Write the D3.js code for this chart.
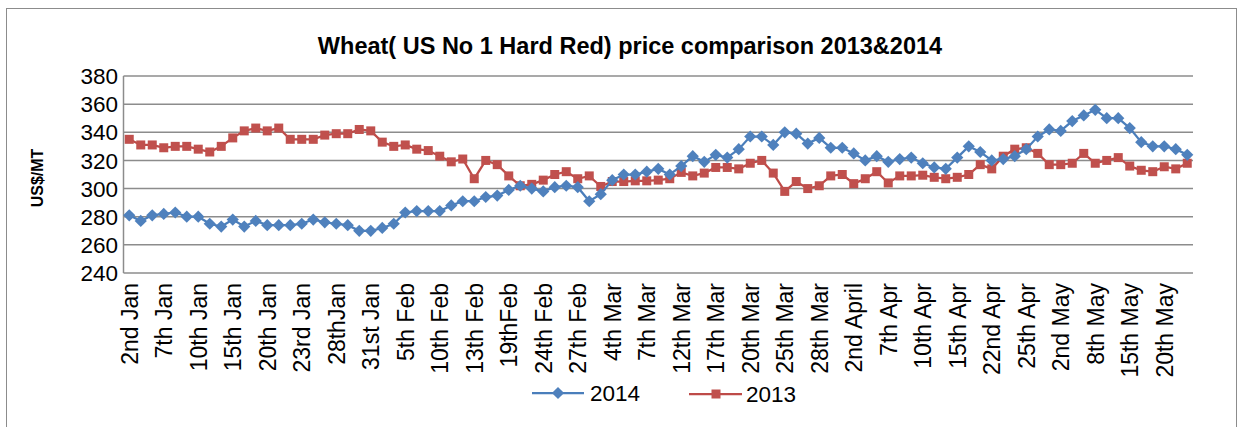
<!DOCTYPE html>
<html>
<head>
<meta charset="utf-8">
<script src="https://cdn.jsdelivr.net/npm/d3@7"></script>
<style>
  body { margin: 0; background: #fff; }
  svg { font-family: "Liberation Sans", Arial, sans-serif; }
</style>
</head>
<body>
<svg id="chart"></svg>
<script>
// tick labels, one for every third trading day
const tickLabels = ["2nd Jan", "7th Jan", "10th Jan", "15th Jan", "20th Jan", "23rd Jan", "28thJan",
  "31st Jan", "5th Feb", "10th Feb", "13th Feb", "19thFeb", "24th Feb", "27th Feb", "4th Mar",
  "7th Mar", "12th Mar", "17th Mar", "20th Mar", "25th Mar", "28th Mar", "2nd April", "7th Apr",
  "10th Apr", "15th Apr", "22nd Apr", "25th Apr", "2nd May", "8th May", "15th May", "20th May"];

const yTicks = [240, 260, 280, 300, 320, 340, 360, 380];

const price2014 = [281, 277, 281, 282, 283, 280, 280, 275, 273, 278, 273, 277, 274, 274, 274, 275,
  278, 276, 275, 274, 270, 270, 272, 275, 283, 284, 284, 284, 288, 291, 291, 294, 295, 299, 302,
  300, 298, 301, 302, 301, 291, 296, 306, 310, 310, 312, 314, 310, 316, 323, 319, 324, 322, 328,
  337, 337, 331, 340, 339, 332, 336, 329, 329, 325, 320, 323, 319, 321, 322, 318, 315, 314, 322,
  330, 326, 320, 321, 323, 328, 337, 342, 341, 348, 352, 356, 350, 350, 343, 333, 330, 330, 328, 324];

const price2013 = [335, 331, 331, 329, 330, 330, 328, 326, 330, 336, 341, 343, 341, 343, 335, 335,
  335, 338, 339, 339, 342, 341, 333, 330, 331, 328, 327, 323, 319, 321, 307, 320, 317, 309, 302,
  303, 306, 310, 312, 307, 309, 301.5, 305, 305, 305.5, 305.5, 306, 307, 311.5, 309, 311, 315, 315,
  314, 318, 320, 311, 298, 305, 300, 302, 309, 310, 303.5, 307, 312, 304, 309, 309, 309.5, 308,
  307, 308, 310, 317, 314, 323, 328, 329, 325, 317, 317, 318, 325, 318, 320, 322, 316, 313, 312,
  315.5, 314, 318];

const width = 1243, height = 427;
const margin = { left: 123.5, right: 50, top: 76, bottom: 154 };

const svg = d3.select("#chart").attr("width", width).attr("height", height);

// outer chart border
svg.append("rect")
  .attr("x", 6.5).attr("y", 8.5)
  .attr("width", 1230).attr("height", 440)
  .attr("fill", "none").attr("stroke", "#8c8c8c").attr("stroke-width", 1);

const x = d3.scalePoint()
  .domain(d3.range(price2014.length))
  .range([margin.left, width - margin.right])
  .padding(0.5);

const y = d3.scaleLinear()
  .domain([240, 380])
  .range([height - margin.bottom, margin.top]);

// title
svg.append("text")
  .attr("x", 630).attr("y", 54)
  .attr("text-anchor", "middle")
  .attr("font-size", 23.5).attr("font-weight", "bold")
  .text("Wheat( US No 1 Hard Red) price comparison 2013&2014");

// gridlines
svg.append("g")
  .selectAll("line")
  .data(yTicks)
  .join("line")
  .attr("x1", margin.left).attr("x2", width - margin.right)
  .attr("y1", (d) => y(d)).attr("y2", (d) => y(d))
  .attr("stroke", "#8c8c8c").attr("stroke-width", 1.5);

// y axis line
svg.append("line")
  .attr("x1", margin.left).attr("x2", margin.left)
  .attr("y1", y(380)).attr("y2", y(240))
  .attr("stroke", "#8c8c8c").attr("stroke-width", 1.5);

// y tick labels
svg.append("g")
  .selectAll("text")
  .data(yTicks)
  .join("text")
  .attr("x", 118).attr("y", (d) => y(d))
  .attr("dy", "0.36em")
  .attr("text-anchor", "end")
  .attr("font-size", 22.5)
  .text((d) => d);

// y axis title
svg.append("text")
  .attr("transform", "translate(43,178) rotate(-90)")
  .attr("text-anchor", "middle")
  .attr("font-size", 16).attr("font-weight", "bold")
  .text("US$/MT");

// x labels, rotated
svg.append("g")
  .selectAll("text")
  .data(tickLabels)
  .join("text")
  .attr("transform", (d, i) => `translate(${x(i * 3)},283) rotate(-90)`)
  .attr("dy", "0.36em")
  .attr("text-anchor", "end")
  .attr("font-size", 23)
  .text((d) => d);

const line = d3.line()
  .x((d, i) => x(i))
  .y((d) => y(d));

const diamond = d3.symbol().type(d3.symbolDiamond2).size(95);

// 2013 series
svg.append("path")
  .datum(price2013)
  .attr("d", line)
  .attr("fill", "none").attr("stroke", "#be4b48").attr("stroke-width", 2.25);
svg.append("g")
  .selectAll("rect")
  .data(price2013)
  .join("rect")
  .attr("x", (d, i) => x(i) - 4.5).attr("y", (d) => y(d) - 4.5)
  .attr("width", 9).attr("height", 9)
  .attr("fill", "#c0504d");

// 2014 series
svg.append("path")
  .datum(price2014)
  .attr("d", line)
  .attr("fill", "none").attr("stroke", "#4a7ebb").attr("stroke-width", 2.25);
svg.append("g")
  .selectAll("path")
  .data(price2014)
  .join("path")
  .attr("transform", (d, i) => `translate(${x(i)},${y(d)})`)
  .attr("d", diamond)
  .attr("fill", "#4f81bd");

// legend
const legend = svg.append("g");
legend.append("line")
  .attr("x1", 532).attr("x2", 584).attr("y1", 393).attr("y2", 393)
  .attr("stroke", "#4a7ebb").attr("stroke-width", 2.25);
legend.append("path")
  .attr("transform", "translate(558,393)")
  .attr("d", diamond)
  .attr("fill", "#4f81bd");
legend.append("text")
  .attr("x", 590).attr("y", 401)
  .attr("font-size", 22.5)
  .text("2014");

legend.append("line")
  .attr("x1", 689).attr("x2", 742).attr("y1", 394).attr("y2", 394)
  .attr("stroke", "#be4b48").attr("stroke-width", 2.25);
legend.append("rect")
  .attr("x", 711.5).attr("y", 389.5).attr("width", 9).attr("height", 9)
  .attr("fill", "#c0504d");
legend.append("text")
  .attr("x", 746).attr("y", 402)
  .attr("font-size", 22.5)
  .text("2013");
</script>
</body>
</html>
